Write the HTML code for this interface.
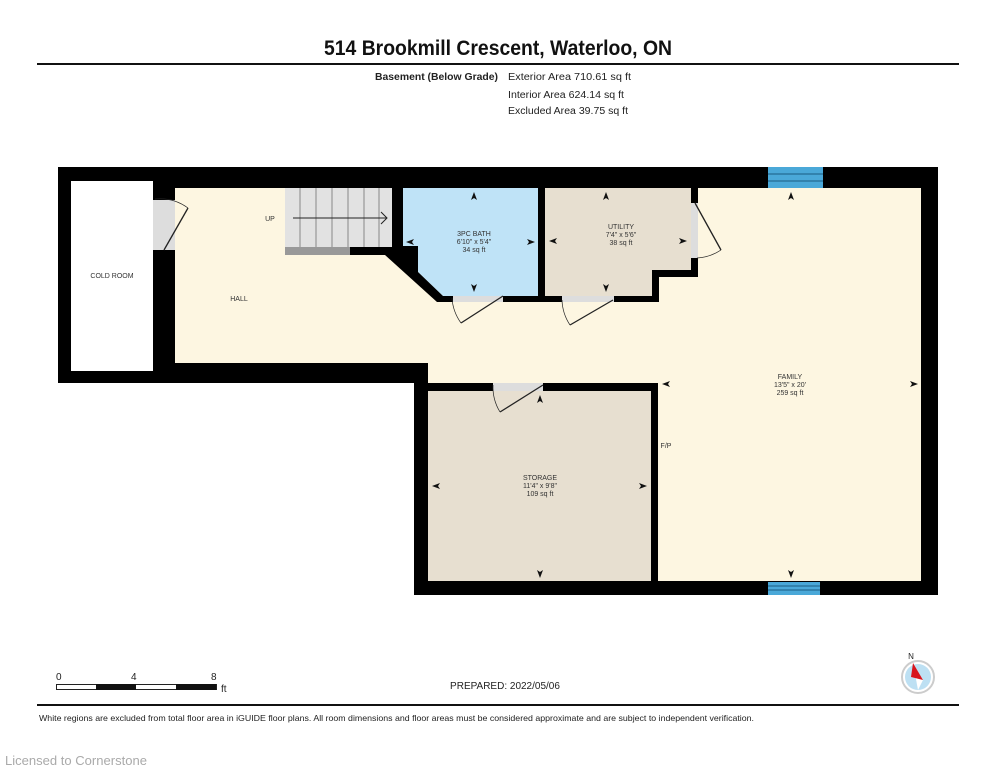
<!DOCTYPE html>
<html><head><meta charset="utf-8"><style>
html,body{margin:0;padding:0;background:#fff;width:995px;height:768px;overflow:hidden}
svg{display:block}
text{font-family:"Liberation Sans",sans-serif}
</style></head><body>
<svg width="995" height="768" viewBox="0 0 995 768" xmlns="http://www.w3.org/2000/svg">
<rect width="995" height="768" fill="#fff"/>
<text x="498" y="55" font-size="21" font-weight="bold" text-anchor="middle" textLength="348" lengthAdjust="spacingAndGlyphs" fill="#111">514 Brookmill Crescent, Waterloo, ON</text>
<rect x="37" y="63" width="922" height="2" fill="#111"/>
<text x="498" y="80" font-size="10" font-weight="bold" text-anchor="end" textLength="123" lengthAdjust="spacingAndGlyphs" fill="#222">Basement (Below Grade)</text>
<text x="508" y="80" font-size="10" fill="#222" textLength="123" lengthAdjust="spacingAndGlyphs">Exterior Area 710.61 sq ft</text>
<text x="508" y="98" font-size="10" fill="#222" textLength="116" lengthAdjust="spacingAndGlyphs">Interior Area 624.14 sq ft</text>
<text x="508" y="114" font-size="10" fill="#222" textLength="120" lengthAdjust="spacingAndGlyphs">Excluded Area 39.75 sq ft</text>

<polygon points="58,167 938,167 938,595 414,595 414,383 58,383" fill="#000"/>
<rect x="71" y="181" width="82" height="190" fill="#fff"/>
<polygon points="175,188 921,188 921,581 658,581 658,383 428,383 428,363 175,363" fill="#fdf6e1"/>
<rect x="414" y="383" width="244" height="8" fill="#000"/>
<rect x="651" y="383" width="7" height="198" fill="#000"/>
<rect x="428" y="391" width="223" height="190" fill="#e7dfd0"/>
<rect x="285" y="188" width="107" height="60" fill="#e2e2e2"/>
<g stroke="#888" stroke-width="1">
<line x1="300" y1="188" x2="300" y2="248"/><line x1="316" y1="188" x2="316" y2="248"/><line x1="332" y1="188" x2="332" y2="248"/><line x1="348" y1="188" x2="348" y2="248"/><line x1="364" y1="188" x2="364" y2="248"/><line x1="379" y1="188" x2="379" y2="248"/>
</g>
<rect x="285" y="247" width="65" height="8" fill="#999"/>
<line x1="293" y1="218" x2="387" y2="218" stroke="#222" stroke-width="1"/>
<polyline points="381,212 387,218 381,224" fill="none" stroke="#222" stroke-width="1"/>
<polygon points="403,188 538,188 538,296 443,296 418,272 418,246 403,246" fill="#bfe3f7"/>
<polygon points="392,188 403,188 403,246 418,246 418,272 443,296 545,296 545,302 437,302 385,255 350,255 350,247 392,247" fill="#000"/>
<rect x="538" y="188" width="7" height="114" fill="#000"/>
<polygon points="545,188 691,188 691,270 652,270 652,296 545,296" fill="#e7dfd0"/>
<polygon points="691,188 698,188 698,277 659,277 659,302 545,302 545,296 652,296 652,270 691,270" fill="#000"/>
<rect x="153" y="200" width="22" height="50" fill="#ddd"/>
<rect x="453" y="296" width="50" height="6" fill="#ddd"/>
<rect x="562" y="296" width="52" height="6" fill="#ddd"/>
<rect x="691" y="203" width="7" height="55" fill="#ddd"/>
<rect x="493" y="383" width="50" height="8" fill="#ddd"/>
<g fill="none" stroke="#222" stroke-width="1.3">
<line x1="164" y1="250" x2="188" y2="208"/><path d="M188,208 A48,48 0 0 0 155,199" stroke-width="0.7"/>
<line x1="503" y1="296" x2="461" y2="323"/><path d="M461,323 A48,48 0 0 1 452,298" stroke-width="0.7"/>
<line x1="613" y1="300" x2="570" y2="325"/><path d="M570,325 A48,48 0 0 1 562,300" stroke-width="0.7"/>
<line x1="695" y1="203" x2="721" y2="250"/><path d="M721,250 A48,48 0 0 1 697,258" stroke-width="0.7"/>
<line x1="543" y1="385" x2="500" y2="412"/><path d="M500,412 A48,48 0 0 1 493,385" stroke-width="0.7"/>
</g>
<rect x="768" y="167" width="55" height="21" fill="#4aa8d8"/>
<line x1="768" y1="174" x2="823" y2="174" stroke="#1b5d82"/><line x1="768" y1="181" x2="823" y2="181" stroke="#1b5d82"/>
<rect x="768" y="582" width="52" height="13" fill="#4aa8d8"/>
<line x1="768" y1="586" x2="820" y2="586" stroke="#1b5d82"/><line x1="768" y1="590" x2="820" y2="590" stroke="#1b5d82"/>
<g fill="#111">
<polygon points="474,192 471,200 474,198 477,200"/>
<polygon points="474,292 471,284 474,286 477,284"/>
<polygon points="406,242 414,239 412,242 414,245"/>
<polygon points="535,242 527,239 529,242 527,245"/>
<polygon points="606,192 603,200 606,198 609,200"/>
<polygon points="606,292 603,284 606,286 609,284"/>
<polygon points="549,241 557,238 555,241 557,244"/>
<polygon points="687,241 679,238 681,241 679,244"/>
<polygon points="791,192 788,200 791,198 794,200"/>
<polygon points="791,578 788,570 791,572 794,570"/>
<polygon points="662,384 670,381 668,384 670,387"/>
<polygon points="918,384 910,381 912,384 910,387"/>
<polygon points="540,395 537,403 540,401 543,403"/>
<polygon points="540,578 537,570 540,572 543,570"/>
<polygon points="432,486 440,483 438,486 440,489"/>
<polygon points="647,486 639,483 641,486 639,489"/>
</g>
<g font-size="7" fill="#333" text-anchor="middle">
<text x="112" y="278">COLD ROOM</text>
<text x="239" y="301">HALL</text>
<text x="270" y="221">UP</text>
<text x="474" y="236">3PC BATH</text><text x="474" y="244">6'10" x 5'4"</text><text x="474" y="252">34 sq ft</text>
<text x="621" y="229">UTILITY</text><text x="621" y="237">7'4" x 5'6"</text><text x="621" y="245">38 sq ft</text>
<text x="790" y="379">FAMILY</text><text x="790" y="387">13'5" x 20'</text><text x="790" y="395">259 sq ft</text>
<text x="540" y="480">STORAGE</text><text x="540" y="488">11'4" x 9'8"</text><text x="540" y="496">109 sq ft</text>
<text x="666" y="448">F/P</text>
</g>
<g font-size="10" fill="#222">
<text x="56" y="680">0</text><text x="131" y="680">4</text><text x="211" y="680">8</text><text x="221" y="692">ft</text>
</g>
<rect x="56.5" y="684.5" width="160" height="5" fill="#fff" stroke="#222"/>
<rect x="96" y="684" width="40" height="6" fill="#111"/><rect x="176" y="684" width="40" height="6" fill="#111"/>
<text x="505" y="689" font-size="10" fill="#222" text-anchor="middle">PREPARED: 2022/05/06</text>
<circle cx="918" cy="677" r="16" fill="#fff" stroke="#ccc" stroke-width="2"/>
<circle cx="918" cy="677" r="13" fill="#bde0f3"/>
<polygon points="913,663 923,680 918,690" fill="#fff"/>
<polygon points="913,663 923,680 911,677" fill="#d8141c"/>
<text x="911" y="659" font-size="8" fill="#222" text-anchor="middle">N</text>
<rect x="37" y="704" width="922" height="2" fill="#111"/>
<text x="39" y="721" font-size="8.5" fill="#222" textLength="715" lengthAdjust="spacingAndGlyphs">White regions are excluded from total floor area in iGUIDE floor plans. All room dimensions and floor areas must be considered approximate and are subject to independent verification.</text>
<text x="5" y="765" font-size="12.5" fill="#aaa" textLength="142" lengthAdjust="spacingAndGlyphs">Licensed to Cornerstone</text>
</svg>
</body></html>
